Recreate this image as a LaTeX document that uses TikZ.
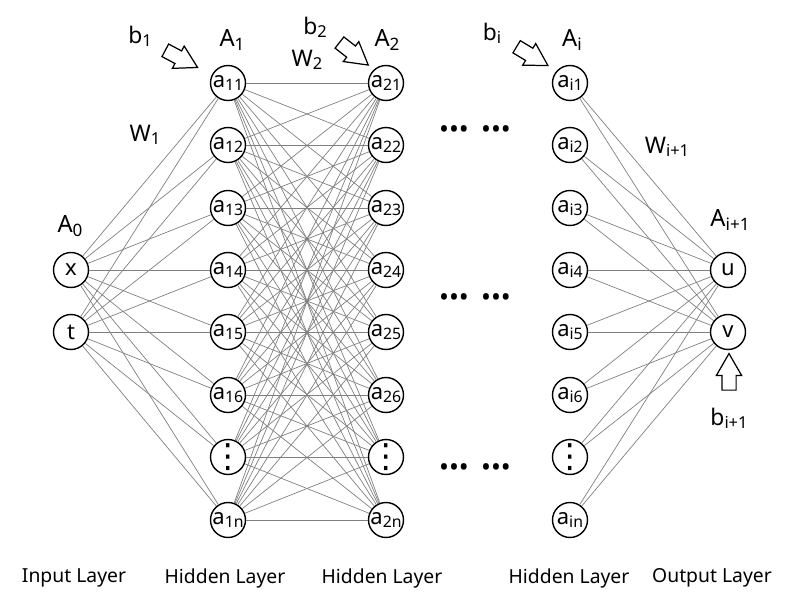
\documentclass[tikz,border=0pt]{standalone}
\usepackage{fontspec}
\setmainfont{Noto Sans}
\newfontfamily\symfont{DejaVu Sans}
\usetikzlibrary{shapes.arrows}
\newcommand{\lsub}[1]{\raisebox{-0.25ex}{\scalebox{0.72}{#1}}}
\newcommand{\dotrow}{\textbullet\textbullet\textbullet\hspace{7pt}\textbullet\textbullet\textbullet}
\newcommand{\colvdots}{\makebox[0pt]{⋮}}

\begin{document}
\begin{tikzpicture}[
    x=0.02cm, y=-0.02cm,
    neuron/.style={circle, draw, line width=0.8pt, minimum size=0.7cm, inner sep=0pt, fill=white, font=\fontsize{12.5}{14}\selectfont},
    link/.style={gray, line width=0.4pt},
    layer/.style={font=\fontsize{13.5}{15}\selectfont},
    weight/.style={font=\fontsize{13}{15}\selectfont},
    caption/.style={font=\fontsize{11}{13}\selectfont},
    bias/.style={single arrow, draw, line width=0.7pt, minimum width=0pt, minimum height=0pt, inner xsep=0.23cm, inner ysep=0.13cm, single arrow head extend=0.11cm, single arrow tip angle=60},
    ellipsis/.style={font=\fontsize{15}{15}\selectfont},
    skipped/.style={neuron, font=\symfont\fontsize{19}{19}\selectfont}
]
\useasboundingbox (0,0) rectangle (795,599);

% Input layer A0
\node[layer] (A0) at (70,226) {A\lsub{0}};
\node[neuron] (in1) at (71,270) {x};
\node[neuron] (in2) at (71,332) {t};

% Hidden layer A1
\node[layer] (A1) at (232,40) {A\lsub{1}};
\node[neuron] (ha1) at (228,83) {a\lsub{11}};
\node[neuron] (ha2) at (228,145) {a\lsub{12}};
\node[neuron] (ha3) at (228,208) {a\lsub{13}};
\node[neuron] (ha4) at (228,270) {a\lsub{14}};
\node[neuron] (ha5) at (228,332) {a\lsub{15}};
\node[neuron] (ha6) at (228,395) {a\lsub{16}};
\node[skipped] (ha7) at (228,457) {\colvdots};
\node[neuron] (ha8) at (228,520) {a\lsub{1n}};

% Hidden layer A2
\node[layer] (A2) at (387,40) {A\lsub{2}};
\node[neuron] (hb1) at (386,83) {a\lsub{21}};
\node[neuron] (hb2) at (386,145) {a\lsub{22}};
\node[neuron] (hb3) at (386,208) {a\lsub{23}};
\node[neuron] (hb4) at (386,270) {a\lsub{24}};
\node[neuron] (hb5) at (386,332) {a\lsub{25}};
\node[neuron] (hb6) at (386,395) {a\lsub{26}};
\node[skipped] (hb7) at (386,457) {\colvdots};
\node[neuron] (hb8) at (386,520) {a\lsub{2n}};

% Hidden layer Ai
\node[layer] (Ai) at (572,40) {A\lsub{i}};
\node[neuron] (hc1) at (570,83) {a\lsub{i1}};
\node[neuron] (hc2) at (570,145) {a\lsub{i2}};
\node[neuron] (hc3) at (570,208) {a\lsub{i3}};
\node[neuron] (hc4) at (570,270) {a\lsub{i4}};
\node[neuron] (hc5) at (570,332) {a\lsub{i5}};
\node[neuron] (hc6) at (570,395) {a\lsub{i6}};
\node[skipped] (hc7) at (570,457) {\colvdots};
\node[neuron] (hc8) at (570,520) {a\lsub{in}};

% Output layer
\node[layer] (Aout) at (730,220) {A\lsub{i+1}};
\node[neuron] (out1) at (728,270) {u};
\node[neuron] (out2) at (728,332) {v};

% weights
\foreach \i in {1,2}
  \foreach \j in {1,...,8}
    \draw[link] (in\i) -- (ha\j);
\foreach \i in {1,...,8}
  \foreach \j in {1,...,8}
    \draw[link] (ha\i) -- (hb\j);
\foreach \i in {1,...,8}
  \foreach \j in {1,2}
    \draw[link] (hc\i) -- (out\j);

\node[weight] (W1) at (145,135) {W\lsub{1}};
\node[weight] (W2) at (307,60) {W\lsub{2}};
\node[weight] (Wout) at (667,147) {W\lsub{i+1}};

% biases
\node[weight] (b1) at (140,36) {b\lsub{1}};
\node[bias, rotate=-28] (b1arrow) at (176,56) {};
\node[weight] (b2) at (315,27) {b\lsub{2}};
\node[bias, rotate=-38] (b2arrow) at (349,50) {};
\node[weight] (bi) at (492,33) {b\lsub{i}};
\node[bias, rotate=-31] (biarrow) at (527,53) {};
\node[weight] (bout) at (729,418) {b\lsub{i+1}};
\node[bias, rotate=90] (boutarrow) at (729,378) {};

% skipped layers
\node[ellipsis] (dots1) at (475,132) {\dotrow};
\node[ellipsis] (dots2) at (475,300) {\dotrow};
\node[ellipsis] (dots3) at (475,470) {\dotrow};

% layer names
\node[caption] (cap0) at (74,578) {Input Layer};
\node[caption] (cap1) at (225,578) {Hidden Layer};
\node[caption] (cap2) at (382,578) {Hidden Layer};
\node[caption] (cap3) at (569,578) {Hidden Layer};
\node[caption] (cap4) at (712,578) {Output Layer};

\end{tikzpicture}
\end{document}
